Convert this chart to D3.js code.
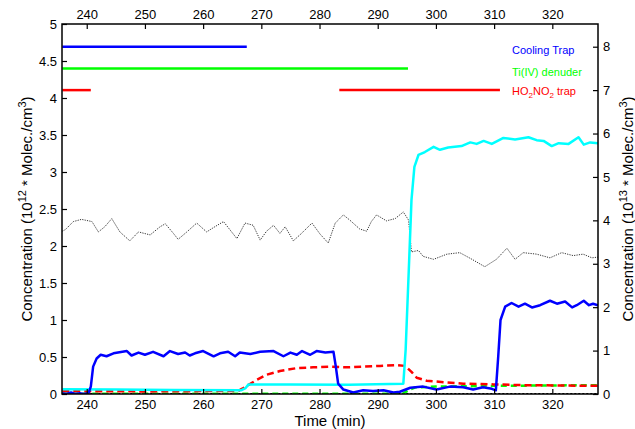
<!DOCTYPE html>
<html>
<head>
<meta charset="utf-8">
<script src="https://cdn.jsdelivr.net/npm/d3@7"></script>
<style>
  body { margin: 0; background: #fff; }
  svg text { font-family: "Liberation Sans", Arial, sans-serif; }
</style>
</head>
<body>
<svg width="635" height="429"></svg>
<script>
// time ticks / axis ticks
const timeTicks = [240, 250, 260, 270, 280, 290, 300, 310, 320];
const leftTicks = [0, 0.5, 1, 1.5, 2, 2.5, 3, 3.5, 4, 4.5, 5];
const rightTicks = [0, 1, 2, 3, 4, 5, 6, 7, 8];

// [time (min), value]
const coolingTrapSignal = [
  [235.8,0.01],[236.5,0.0],[237.3,0.02],[238,0.0],[238.8,0.01],[239.5,0.0],[240.3,0.01],
  [240.7,0.1],[241.1,0.37],[241.7,0.48],[242.4,0.53],[243.4,0.51],[244.6,0.55],[246.9,0.58],
  [247.7,0.52],[248.9,0.56],[250,0.53],[251.4,0.57],[253.2,0.51],[254.3,0.58],[255.7,0.54],
  [256.9,0.56],[257.7,0.52],[258.6,0.55],[260,0.58],[261.8,0.51],[262.9,0.55],[264.3,0.57],
  [265.5,0.51],[266.3,0.56],[268.1,0.54],[269.8,0.57],[272.1,0.58],[273.8,0.51],[275,0.56],
  [276.1,0.53],[277,0.58],[278.4,0.53],[279.5,0.58],[281,0.56],[282.4,0.57],[282.8,0.37],
  [283.2,0.14],[284.1,0.06],[285.8,0.02],[287.5,0.05],[289.2,0.04],[291,0.05],[292.7,0.02],
  [293.8,0.03],[295.6,0.085],[297.8,0.1],[300.1,0.06],[302.4,0.1],[304.7,0.09],[306.4,0.06],
  [308.1,0.09],[309.6,0.07],[310.3,0.05],[310.7,0.5],[311.1,1.0],[311.9,1.18],[313,1.23],
  [314.2,1.18],[315.3,1.22],[316.5,1.17],[317.9,1.2],[319.6,1.26],[320.8,1.22],[322.2,1.25],
  [323.4,1.17],[324.2,1.2],[325.4,1.26],[326.3,1.2],[327,1.22],[327.85,1.2]
];
const cyanSignal = [
  [235.8,0.065],[245,0.06],[255,0.055],[266.5,0.05],[267.3,0.08],[267.8,0.13],[275,0.13],
  [285,0.125],[294.4,0.14],[294.8,0.6],[295.4,1.8],[295.8,2.62],[296.3,3.07],[297,3.23],
  [298.1,3.27],[299.6,3.34],[300.7,3.3],[302.1,3.33],[304.4,3.35],[305.9,3.4],[307,3.38],
  [308.2,3.42],[309.6,3.38],[311.6,3.46],[313.6,3.44],[315.9,3.47],[317.3,3.43],[318.5,3.42],
  [319.9,3.35],[321.1,3.39],[322.8,3.38],[324.5,3.47],[325.4,3.37],[326.5,3.4],[327.85,3.39]
];
const redSignal = [
  [235.8,0.04],[250,0.035],[262,0.04],[266,0.04],[266.9,0.08],[269.2,0.19],[270.9,0.26],
  [273.2,0.31],[276.1,0.35],[278.9,0.36],[281.8,0.37],[284.7,0.36],[287.5,0.37],[290.4,0.38],
  [293.3,0.39],[294.7,0.38],[295.8,0.3],[296.7,0.22],[298.4,0.18],[301.3,0.16],[304.7,0.14],
  [309.9,0.13],[315,0.12],[327.85,0.11]
];
const greenSignal = [
  [235.8,0.005],[294.3,0.005],[295.5,0.06],[296.5,0.09],[300,0.1],[310,0.11],[327.85,0.12]
];
const dottedSignal = [
  [235.8,2.2],[236.3,2.22],[237.7,2.33],[239.1,2.36],[240.9,2.33],[242,2.19],[243.1,2.26],
  [244.3,2.37],[245.7,2.19],[247.4,2.07],[248.9,2.19],[250.9,2.15],[252.6,2.26],[253.5,2.3],
  [254.9,2.17],[255.7,2.09],[257.2,2.19],[258.9,2.31],[260.6,2.19],[261.8,2.25],[263.5,2.33],
  [264.9,2.19],[265.8,2.1],[267.2,2.31],[268.6,2.28],[269.8,2.08],[270.9,2.2],[272.1,2.28],
  [273.2,2.17],[274.1,2.26],[275.5,2.07],[276.9,2.17],[278.7,2.31],[280.1,2.16],[281.5,2.04],
  [282.7,2.31],[284.1,2.42],[285.2,2.35],[286.9,2.23],[288.1,2.2],[288.9,2.33],[289.8,2.42],
  [291.5,2.34],[293,2.37],[294.4,2.46],[295.3,2.35],[295.8,1.92],[297,1.94],[297.8,1.86],
  [299.6,1.82],[301.9,1.89],[304.1,1.91],[306.2,1.82],[308.4,1.72],[310.4,1.82],[312.2,1.97],
  [313.6,1.82],[315,1.91],[317.3,1.89],[319.6,1.84],[321.6,1.91],[323.6,1.87],[325.3,1.89],
  [326.8,1.84],[327.85,1.85]
];
const zeroSignal = [[235.8,0],[327.85,0]];

// periods when each device was in line (right axis level)
const periodLabels = ["Cooling Trap", "Ti(IV) denuder", "HO2NO2 trap"];
const periodColors = ["#0000ff", "#00ff00", "#ff0000"];
const periodLevels = [8, 7.5, 7];
const periods = [
  [[235.8, 267.5]],
  [[235.8, 295.2]],
  [[235.8, 240.7], [283.4, 311]]
];

var svg = d3.select("svg");
const plotLeft = 62, plotRight = 598, plotTop = 24, plotBottom = 394;

var x = d3.scaleLinear().domain([235.75, 327.85]).range([plotLeft, plotRight]);
var yL = d3.scaleLinear().domain([0, 5]).range([plotBottom, plotTop]);
var yR = d3.scaleLinear().domain([0, 8.523]).range([plotBottom, plotTop]);

svg.append("clipPath").attr("id", "clip")
  .append("rect").attr("x", plotLeft).attr("y", plotTop)
  .attr("width", plotRight - plotLeft).attr("height", plotBottom - plotTop);

var plot = svg.append("g").attr("clip-path", "url(#clip)");

var line = d3.line()
  .x(function(d) { return x(d[0]); })
  .y(function(d) { return yL(d[1]); });

function drawSeries(data, color, width, dash) {
  plot.append("path")
    .datum(data)
    .attr("d", line)
    .attr("fill", "none")
    .attr("stroke", color)
    .attr("stroke-width", width)
    .attr("stroke-linejoin", "round")
    .attr("stroke-dasharray", dash);
}

drawSeries(zeroSignal, "#000", 2, "2,2");
drawSeries(dottedSignal, "#333", 1, "1.2,1.2");
drawSeries(greenSignal, "#00ff00", 2.5, "6,4");
drawSeries(redSignal, "#ff0000", 2.5, "7,4");
drawSeries(cyanSignal, "#00ffff", 2.5, null);
drawSeries(coolingTrapSignal, "#0000ff", 2.5, null);

// period bars
periods.forEach(function(segs, i) {
  plot.selectAll(null)
    .data(segs)
    .enter().append("line")
    .attr("x1", function(s) { return x(s[0]); })
    .attr("x2", function(s) { return x(s[1]); })
    .attr("y1", yR(periodLevels[i]))
    .attr("y2", yR(periodLevels[i]))
    .attr("stroke", periodColors[i])
    .attr("stroke-width", 2.5);
});

// legend text
var legend = svg.append("g").attr("font-size", 11);
legend.append("text").attr("x", 512).attr("y", 54).attr("fill", periodColors[0]).text(periodLabels[0]);
legend.append("text").attr("x", 512).attr("y", 76).attr("fill", periodColors[1]).text(periodLabels[1]);
var ho = legend.append("text").attr("x", 512).attr("y", 95).attr("fill", periodColors[2]);
ho.append("tspan").text("HO");
ho.append("tspan").attr("font-size", 8).attr("dy", 3).text("2");
ho.append("tspan").attr("dy", -3).text("NO");
ho.append("tspan").attr("font-size", 8).attr("dy", 3).text("2");
ho.append("tspan").attr("dy", -3).text(" trap");

// axes
var fmt = function(d) { return String(d); };
function styleAxis(g) {
  g.attr("font-size", 13).attr("font-family", "'Liberation Sans', Arial, sans-serif");
  g.select(".domain").remove();
  g.selectAll(".tick line").attr("stroke", "#000").attr("stroke-width", 1.2);
  g.selectAll(".tick text").attr("fill", "#000");
}

svg.append("g").attr("transform", "translate(0," + plotBottom + ")")
  .call(d3.axisBottom(x).tickValues(timeTicks).tickSize(-5).tickPadding(6).tickFormat(fmt))
  .call(styleAxis);
svg.append("g").attr("transform", "translate(0," + plotTop + ")")
  .call(d3.axisTop(x).tickValues(timeTicks).tickSize(-5).tickPadding(5).tickFormat(fmt))
  .call(styleAxis);
svg.append("g").attr("transform", "translate(" + plotLeft + ",0)")
  .call(d3.axisLeft(yL).tickValues(leftTicks).tickSize(-5).tickPadding(5).tickFormat(fmt))
  .call(styleAxis);
svg.append("g").attr("transform", "translate(" + plotRight + ",0)")
  .call(d3.axisRight(yR).tickValues(rightTicks).tickSize(-5).tickPadding(5).tickFormat(fmt))
  .call(styleAxis);

svg.append("rect")
  .attr("x", plotLeft).attr("y", plotTop)
  .attr("width", plotRight - plotLeft).attr("height", plotBottom - plotTop)
  .attr("fill", "none").attr("stroke", "#000").attr("stroke-width", 1.5);

// axis labels
svg.append("text")
  .attr("x", (plotLeft + plotRight) / 2).attr("y", 426)
  .attr("text-anchor", "middle").attr("font-size", 15)
  .text("Time (min)");

function yLabel(xPos, power) {
  var t = svg.append("text")
    .attr("transform", "translate(" + xPos + ",209) rotate(-90)")
    .attr("text-anchor", "middle").attr("font-size", 15);
  t.append("tspan").text("Concentration (10");
  t.append("tspan").attr("font-size", 11).attr("dy", -6).text(power);
  t.append("tspan").attr("dy", 6).text(" * Molec./cm");
  t.append("tspan").attr("font-size", 11).attr("dy", -6).text("3");
  t.append("tspan").attr("dy", 6).text(")");
}
yLabel(32, "12");
yLabel(633, "13");
</script>
</body>
</html>
